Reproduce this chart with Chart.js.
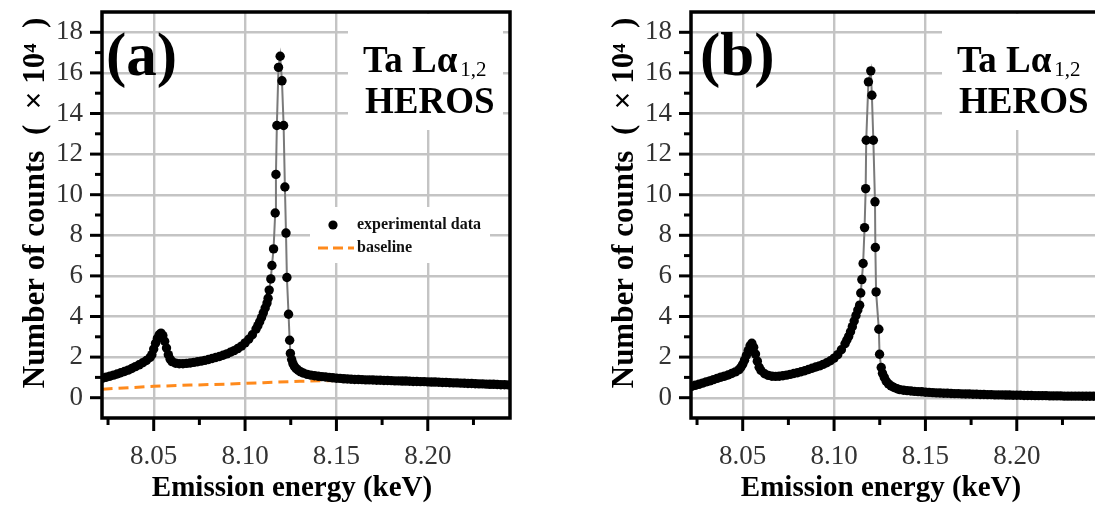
<!DOCTYPE html>
<html>
<head>
<meta charset="utf-8">
<script src="https://cdn.jsdelivr.net/npm/chart.js@4"></script>
<style>
  html, body { margin: 0; padding: 0; background: #fff; }
  body { width: 1095px; height: 506px; overflow: hidden; position: relative; }
  .panel { position: absolute; top: 0; }
  #wrapA { left: 0; }
  #wrapB { left: 589px; }
</style>
</head>
<body>
<div class="panel" id="wrapA"><canvas id="chartA" width="560" height="506"></canvas></div>
<div class="panel" id="wrapB"><canvas id="chartB" width="560" height="506"></canvas></div>
<script>
// axis ranges and ticks (keV, counts x 10^4)
const xMin = 8.0217, xMax = 8.245;
const yMin = -1, yMax = 19;
const xMajor = [8.05, 8.10, 8.15, 8.20];
const xMinor = [8.025, 8.075, 8.125, 8.175, 8.225];
const yMajor = [0, 2, 4, 6, 8, 10, 12, 14, 16, 18];
const yMinor = [1, 3, 5, 7, 9, 11, 13, 15, 17];

// (a) experimental data
const energyA = [
  8.022, 8.024, 8.026, 8.028, 8.030, 8.032, 8.034, 8.036, 8.038, 8.040,
  8.042, 8.044, 8.046, 8.048, 8.049, 8.050, 8.051, 8.052, 8.053, 8.054,
  8.055, 8.056, 8.057, 8.058, 8.059, 8.060, 8.062, 8.064, 8.066, 8.068,
  8.070, 8.072, 8.074, 8.076, 8.078, 8.080, 8.082, 8.084, 8.086, 8.088,
  8.090, 8.092, 8.094, 8.096, 8.098, 8.100, 8.102, 8.104, 8.106, 8.107,
  8.108, 8.109, 8.110, 8.111, 8.112, 8.1126, 8.1132, 8.1141, 8.1147, 8.1156,
  8.1165, 8.1169, 8.1174, 8.1183, 8.1192, 8.1202, 8.1211, 8.1218, 8.1224, 8.1229,
  8.1238, 8.1244, 8.1248, 8.1255, 8.1262, 8.1270, 8.1280, 8.1292, 8.1305, 8.132,
  8.134, 8.136, 8.138, 8.140, 8.142, 8.144, 8.146, 8.148, 8.150, 8.152,
  8.154, 8.156, 8.158, 8.160, 8.162, 8.164, 8.166, 8.168, 8.170, 8.172,
  8.174, 8.176, 8.178, 8.180, 8.182, 8.184, 8.186, 8.188, 8.190, 8.192,
  8.194, 8.196, 8.198, 8.200, 8.202, 8.204, 8.206, 8.208, 8.210, 8.212,
  8.214, 8.216, 8.218, 8.220, 8.222, 8.224, 8.226, 8.228, 8.230, 8.232,
  8.234, 8.236, 8.238, 8.240, 8.242, 8.244, 8.246
];
const countsA = [
  0.96, 1.01, 1.06, 1.11, 1.17, 1.23, 1.29, 1.36, 1.44, 1.53,
  1.62, 1.72, 1.83, 1.98, 2.12, 2.40, 2.68, 2.92, 3.10, 3.18,
  3.06, 2.78, 2.45, 2.12, 1.90, 1.78, 1.70, 1.67, 1.67, 1.69,
  1.71, 1.74, 1.77, 1.80, 1.84, 1.88, 1.93, 1.98, 2.03, 2.09,
  2.16, 2.24, 2.32, 2.42, 2.54, 2.70, 2.88, 3.10, 3.38, 3.55,
  3.74, 3.95, 4.18, 4.42, 4.66, 4.90, 5.30, 5.85, 6.51, 7.33,
  9.10, 11.00, 13.41, 16.27, 16.82, 15.61, 13.41, 10.38, 8.11, 5.92,
  4.11, 2.83, 2.18, 1.88, 1.68, 1.54, 1.43, 1.34, 1.27, 1.21,
  1.15, 1.11, 1.08, 1.06, 1.04, 1.02, 1.00, 0.98, 0.96, 0.95,
  0.93, 0.92, 0.91, 0.90, 0.90, 0.89, 0.88, 0.88, 0.87, 0.86,
  0.86, 0.85, 0.85, 0.84, 0.83, 0.83, 0.82, 0.82, 0.81, 0.80,
  0.80, 0.79, 0.79, 0.78, 0.77, 0.77, 0.76, 0.75, 0.75, 0.74,
  0.73, 0.73, 0.72, 0.71, 0.70, 0.70, 0.69, 0.68, 0.68, 0.67,
  0.66, 0.66, 0.65, 0.64, 0.64, 0.63, 0.62
];

// (a) baseline
const baselineEnergy = [8.022, 8.050, 8.070, 8.090, 8.110, 8.130, 8.155, 8.180, 8.210, 8.246];
const baselineA      = [0.42,  0.56,  0.62,  0.67,  0.74,  0.81,  0.86,  0.80,  0.70,  0.58];

// (b) experimental data
const energyB = [
  8.022, 8.024, 8.026, 8.028, 8.030, 8.032, 8.034, 8.036, 8.038, 8.040,
  8.042, 8.044, 8.046, 8.048, 8.049, 8.050, 8.051, 8.052, 8.053, 8.054,
  8.055, 8.056, 8.057, 8.058, 8.059, 8.060, 8.062, 8.064, 8.066, 8.068,
  8.070, 8.072, 8.074, 8.076, 8.078, 8.080, 8.082, 8.084, 8.086, 8.088,
  8.090, 8.092, 8.094, 8.096, 8.098, 8.100, 8.102, 8.104, 8.106, 8.107,
  8.108, 8.109, 8.110, 8.111, 8.112, 8.113, 8.1140, 8.1146, 8.1152, 8.1159,
  8.1167, 8.1173, 8.1176, 8.1188, 8.1201, 8.1207, 8.1215, 8.1224, 8.1226, 8.1230,
  8.1245, 8.1249, 8.1258, 8.1265, 8.1275, 8.1285, 8.1298, 8.1312, 8.1328, 8.1345,
  8.136, 8.138, 8.140, 8.142, 8.144, 8.146, 8.148, 8.150, 8.152, 8.154,
  8.156, 8.158, 8.160, 8.162, 8.164, 8.166, 8.168, 8.170, 8.172, 8.174,
  8.176, 8.178, 8.180, 8.182, 8.184, 8.186, 8.188, 8.190, 8.192, 8.194,
  8.196, 8.198, 8.200, 8.202, 8.204, 8.206, 8.208, 8.210, 8.212, 8.214,
  8.216, 8.218, 8.220, 8.222, 8.224, 8.226, 8.228, 8.230, 8.232, 8.234,
  8.236, 8.238, 8.240, 8.242, 8.244, 8.246
];
const countsB = [
  0.55, 0.61, 0.66, 0.72, 0.78, 0.83, 0.89, 0.95, 1.01, 1.06,
  1.12, 1.19, 1.27, 1.38, 1.50, 1.65, 1.85, 2.08, 2.32, 2.55,
  2.68, 2.48, 2.15, 1.80, 1.50, 1.34, 1.18, 1.10, 1.06, 1.05,
  1.06, 1.08, 1.11, 1.15, 1.19, 1.23, 1.28, 1.33, 1.39, 1.45,
  1.51, 1.57, 1.64, 1.72, 1.82, 1.95, 2.12, 2.36, 2.66, 2.84,
  3.02, 3.25, 3.50, 3.78, 4.05, 4.32, 4.56, 5.16, 5.82, 6.61,
  8.38, 10.30, 12.68, 15.56, 16.10, 14.90, 12.68, 9.65, 7.40, 5.21,
  3.37, 2.14, 1.49, 1.20, 1.00, 0.82, 0.68, 0.58, 0.50, 0.44,
  0.40, 0.37, 0.35, 0.33, 0.31, 0.30, 0.29, 0.27, 0.26, 0.25,
  0.24, 0.23, 0.22, 0.22, 0.21, 0.20, 0.20, 0.19, 0.18, 0.18,
  0.17, 0.17, 0.16, 0.16, 0.15, 0.15, 0.14, 0.14, 0.14, 0.13,
  0.13, 0.12, 0.12, 0.12, 0.11, 0.11, 0.11, 0.10, 0.10, 0.10,
  0.10, 0.09, 0.09, 0.09, 0.09, 0.08, 0.08, 0.08, 0.08, 0.08,
  0.07, 0.07, 0.07, 0.07, 0.07, 0.07
];

const serif = "'Liberation Serif', 'Times New Roman', serif";
const gridColor = '#c4c4c4';
const orange = '#ff8a1c';
const xTitle = 'Emission energy (keV)';
const yTitle = 'Number of counts  (  × 10⁴  )';

const toPts = (xs, ys) => xs.map((x, i) => ({ x, y: ys[i] }));

function dataSet(xs, ys) {
  return {
    label: 'experimental data',
    data: toPts(xs, ys),
    showLine: true,
    borderColor: '#7a7a7a',
    borderWidth: 2,
    pointRadius: 4.7,
    pointBackgroundColor: '#000',
    pointBorderWidth: 0,
    order: 1
  };
}

// frame, tick marks, titles and the in-plot texts
const decor = {
  id: 'decor',
  beforeDatasetsDraw(chart, args, o) {
    const { ctx, chartArea: a } = chart;
    ctx.save();
    ctx.fillStyle = '#fff';
    o.boxes.forEach(b => ctx.fillRect(a.left + b[0], a.top + b[1], b[2], b[3]));
    ctx.restore();
  },
  afterDatasetsDraw(chart, args, o) {
    const { ctx, chartArea: a, scales: { x, y } } = chart;
    ctx.save();
    ctx.strokeStyle = '#000';
    ctx.lineWidth = 3.5;
    ctx.strokeRect(a.left, a.top, a.right - a.left, a.bottom - a.top);
    ctx.lineWidth = 3;
    const tick = (x1, y1, x2, y2) => { ctx.beginPath(); ctx.moveTo(x1, y1); ctx.lineTo(x2, y2); ctx.stroke(); };
    yMajor.forEach(v => { const p = y.getPixelForValue(v); tick(a.left, p, a.left - 12, p); });
    yMinor.forEach(v => { const p = y.getPixelForValue(v); tick(a.left, p, a.left - 7, p); });
    xMajor.forEach(v => { const p = x.getPixelForValue(v); tick(p, a.bottom, p, a.bottom + 13); });
    xMinor.forEach(v => { const p = x.getPixelForValue(v); tick(p, a.bottom, p, a.bottom + 7); });

    ctx.fillStyle = '#000';
    ctx.textBaseline = 'alphabetic';
    ctx.textAlign = 'center';
    ctx.font = `bold 29px ${serif}`;
    ctx.fillText(xTitle, a.left + 190, 496);
    ctx.save();
    ctx.translate(44, a.top + 191);
    ctx.rotate(-Math.PI / 2);
    ctx.font = `bold 31px ${serif}`;
    ctx.fillText(yTitle, 0, 0);
    ctx.restore();

    ctx.textAlign = 'left';
    ctx.font = `bold 61px ${serif}`;
    ctx.fillText(o.tag, a.left + o.tagX, a.top + 63);

    ctx.font = `bold 37px ${serif}`;
    ctx.fillText('Ta Lα', a.left + o.textX, a.top + 60);
    const w = ctx.measureText('Ta Lα').width;
    ctx.fillText('HEROS', a.left + o.textX + 2, a.top + 101);
    ctx.font = `21px ${serif}`;
    ctx.fillText('1,2', a.left + o.textX + w + 3, a.top + 64);

    if (o.legend) {
      ctx.beginPath();
      ctx.arc(a.left + 231, a.top + 213, 4.6, 0, Math.PI * 2);
      ctx.fill();
      ctx.strokeStyle = orange;
      ctx.lineWidth = 3;
      ctx.setLineDash([10, 5]);
      tick(a.left + 216, a.top + 236, a.left + 252, a.top + 236);
      ctx.setLineDash([]);
      ctx.fillStyle = '#111';
      ctx.textBaseline = 'middle';
      ctx.font = `bold 16px ${serif}`;
      ctx.fillText('experimental data', a.left + 255, a.top + 213);
      ctx.fillText('baseline', a.left + 255, a.top + 236);
    }
    ctx.restore();
  }
};

function makeChart(id, datasets, deco) {
  return new Chart(document.getElementById(id), {
    type: 'scatter',
    data: { datasets },
    options: {
      responsive: false,
      animation: false,
      layout: { padding: { left: 0, right: 50, top: 12, bottom: 0 } },
      plugins: {
        legend: { display: false },
        tooltip: { enabled: false },
        decor: deco
      },
      scales: {
        x: {
          type: 'linear',
          min: xMin,
          max: xMax,
          afterBuildTicks: s => { s.ticks = xMajor.map(v => ({ value: v })); },
          afterFit: s => { s.height = 88; s.paddingLeft = 0; s.paddingRight = 0; },
          grid: { color: gridColor, lineWidth: 2.4, drawTicks: false },
          border: { display: false },
          ticks: {
            padding: 23,
            color: '#333',
            autoSkip: false,
            maxRotation: 0,
            font: { family: serif, size: 27 },
            callback: v => v.toFixed(2)
          }
        },
        y: {
          type: 'linear',
          min: yMin,
          max: yMax,
          afterBuildTicks: s => { s.ticks = yMajor.map(v => ({ value: v })); },
          afterFit: s => { s.width = 102; s.paddingTop = 0; s.paddingBottom = 0; },
          grid: { color: gridColor, lineWidth: 2.4, drawTicks: false },
          border: { display: false },
          ticks: {
            padding: 19,
            color: '#333',
            font: { family: serif, size: 27 }
          }
        }
      }
    },
    plugins: [decor]
  });
}

makeChart('chartA', [
  dataSet(energyA, countsA),
  {
    label: 'baseline',
    data: toPts(baselineEnergy, baselineA),
    showLine: true,
    borderColor: orange,
    borderWidth: 3,
    borderDash: [10, 6],
    pointRadius: 0,
    order: 2
  }
], {
  tag: '(a)', tagX: 4, textX: 261, legend: true,
  boxes: [[246, 2, 155, 116], [208, 195, 180, 56]]
});

makeChart('chartB', [dataSet(energyB, countsB)], {
  tag: '(b)', tagX: 9, textX: 266, legend: false,
  boxes: [[251, 2, 160, 116]]
});
</script>
</body>
</html>
